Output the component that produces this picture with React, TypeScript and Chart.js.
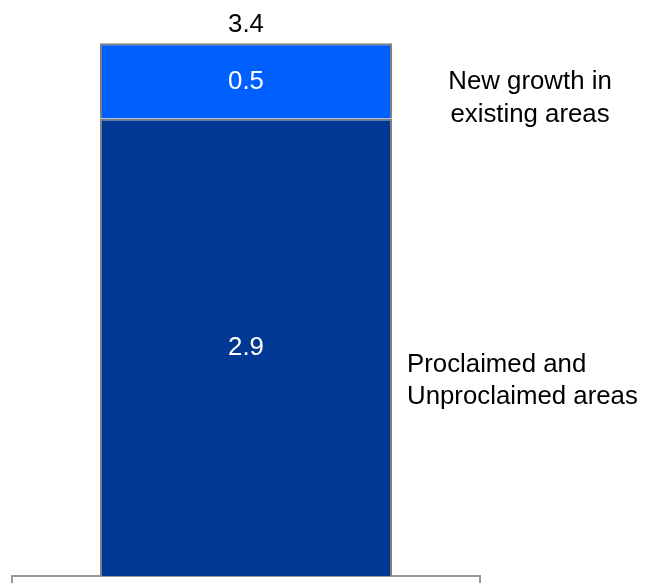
import React, { useEffect, useRef } from "react";
import { Chart, registerables } from "chart.js";

Chart.register(...registerables);

const categories = [""];
const seriesNames = [
  ["Proclaimed and", "Unproclaimed areas"],
  ["New growth in", "existing areas"],
];
const proclaimedValues = [2.92];
const newGrowthValues = [0.48];
const seriesColors = ["#003893", "#0060FF"];

const FONT = '"Liberation Sans", Arial, sans-serif';

const labelPlugin = {
  id: "labelPlugin",
  afterDatasetsDraw(chart: any) {
    const ctx = chart.ctx;
    ctx.save();
    ctx.font = `25.8px ${FONT}`;
    let topY = Infinity;
    let barX = 0;
    let barRight = 0;
    chart.data.datasets.forEach((ds: any, di: number) => {
      const meta = chart.getDatasetMeta(di);
      meta.data.forEach((el: any, i: number) => {
        const v = ds.data[i];
        const cy = (el.y + el.base) / 2;
        ctx.fillStyle = "#ffffff";
        ctx.textAlign = "center";
        ctx.textBaseline = "middle";
        ctx.fillText(Number(v).toFixed(1), el.x, cy + 1);
        topY = Math.min(topY, el.y);
        barX = el.x;
        barRight = el.x + el.width / 2;
        // side labels
        ctx.fillStyle = "#000000";
        ctx.textBaseline = "alphabetic";
        const lines = seriesNames[di];
        if (di === 0) {
          ctx.textAlign = "left";
          ctx.fillText(lines[0], barRight + 15, cy + 24.5);
          ctx.fillText(lines[1], barRight + 15, cy + 57);
        } else {
          ctx.textAlign = "center";
          const cx = chart.chartArea.right + 50;
          ctx.fillText(lines[0], cx, cy + 8.5);
          ctx.fillText(lines[1], cx, cy + 41);
        }
      });
    });
    const total = proclaimedValues[0] + newGrowthValues[0];
    ctx.fillStyle = "#000000";
    ctx.textAlign = "center";
    ctx.textBaseline = "alphabetic";
    ctx.fillText(total.toFixed(1), barX, topY - 11.5);
    ctx.restore();
  },
};

export default function App() {
  const ref = useRef<HTMLCanvasElement | null>(null);
  useEffect(() => {
    document.body.style.margin = "0";
    if (!ref.current) return;
    const chart = new Chart(ref.current, {
      type: "bar",
      data: {
        labels: categories,
        datasets: [
          {
            label: seriesNames[0].join(" "),
            data: proclaimedValues,
            backgroundColor: seriesColors[0],
            borderColor: "#808080",
            borderWidth: 2,
          },
          {
            label: seriesNames[1].join(" "),
            data: newGrowthValues,
            backgroundColor: seriesColors[1],
            borderColor: "#808080",
            borderWidth: 2,
          },
        ],
      },
      options: {
        animation: false,
        responsive: false,
        devicePixelRatio: 1,
        layout: { padding: { left: 12, right: 168, top: 12, bottom: 0 } },
        datasets: { bar: { categoryPercentage: 0.8, barPercentage: 0.78 } },
        plugins: {
          legend: { display: false },
          tooltip: { enabled: false },
        },
        scales: {
          x: {
            stacked: true,
            grid: {
              offset: true,
              drawOnChartArea: false,
              drawTicks: true,
              tickLength: 7,
              color: "#999999",
              lineWidth: 2,
            },
            border: { display: true, color: "#999999", width: 2 },
            ticks: { display: false },
          },
          y: {
            stacked: true,
            display: false,
            min: 0,
            max: 3.6,
          },
        },
      },
      plugins: [labelPlugin],
    });
    return () => chart.destroy();
  }, []);
  return <canvas ref={ref} width={648} height={583} style={{ display: "block" }} />;
}
